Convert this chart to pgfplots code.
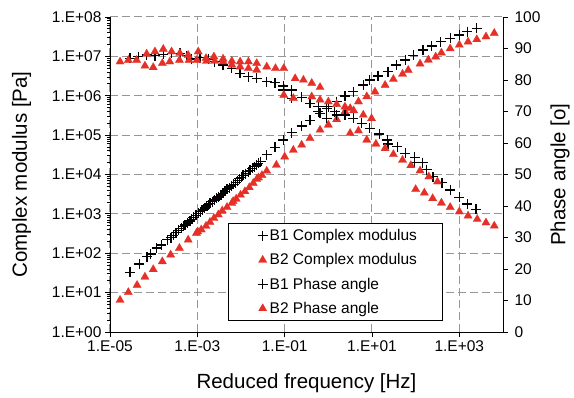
\documentclass[border=0pt]{standalone}
\usepackage{fontspec}
\setmainfont{Liberation Sans}
\usepackage{pgfplots}
\pgfplotsset{compat=1.18}
\pgfkeys{/pgf/number format/assume math mode=true}
\definecolor{myred}{RGB}{228,48,38}
\definecolor{gridgray}{RGB}{150,150,150}
\pgfplotsset{
  myleg/.style={legend image code/.code={\path[draw=none,fill=none] (-17pt,0pt) -- (4.5pt,0pt); \draw[mark repeat=1,##1] plot coordinates {(0pt,0pt)};}},
  bone/.style={only marks, mark=+, mark size=5pt, black, mark options={line width=1.3pt}, myleg},
  btwo/.style={only marks, mark=triangle*, mark size=4.8pt, myred, mark options={fill=myred, draw=myred, line width=0.2pt}, myleg},
}
\begin{document}
\begin{tikzpicture}
\begin{axis}[scale only axis, width=393pt, height=315pt,
  xmode=log, xmin=1e-5, xmax=1e4,
  ymode=log, ymin=1, ymax=1e8,
  tick align=outside, major tick length=5pt,
  tick style={black, line width=0.8pt},
  tick label style={font=\fontsize{15.5}{18}\selectfont},
  label style={font=\fontsize{20.5}{24}\selectfont},
  axis line style={line width=0.9pt},
  axis x line*=bottom, axis y line*=left,
  xtick={1e-5,1e-3,1e-1,1e1,1e3},
  xticklabels={1.E-05,1.E-03,1.E-01,1.E+01,1.E+03},
  ytick={1,1e1,1e2,1e3,1e4,1e5,1e6,1e7,1e8},
  yticklabels={1.E+00,1.E+01,1.E+02,1.E+03,1.E+04,1.E+05,1.E+06,1.E+07,1.E+08},
  minor xtick={}, minor ytick={},
  xmajorgrids, ymajorgrids,
  major grid style={gridgray, dash pattern=on 8pt off 4pt, line width=1pt},
  xlabel={Reduced frequency [Hz]}, ylabel={Complex modulus [Pa]},
  xlabel style={at={(axis description cs:0.5,-0.162)}, anchor=center},
  ylabel style={at={(axis description cs:-0.225,0.5)}, anchor=center},
]
% B1 complex modulus
\addplot[bone] coordinates {
(2.88e-5,33.1) (4.68e-5,53.7) (7.08e-5,81.3) (8.51e-5,95.5) (1.175e-4,135)
(1.51e-4,162) (2.04e-4,219) (2.51e-4,251) (2.82e-4,288) (3.24e-4,331)
(3.72e-4,380) (4.27e-4,427) (4.79e-4,479) (5.25e-4,525) (6.03e-4,589)
(6.76e-4,661) (7.41e-4,724) (8.13e-4,813) (9.33e-4,912) (1.05e-3,1023)
(1.175e-3,1148) (1.32e-3,1259) (1.48e-3,1413) (1.62e-3,1585) (1.78e-3,1698)
(1.95e-3,1862) (2.19e-3,2042) (2.51e-3,2239) (2.75e-3,2512) (3.02e-3,2754)
(3.47e-3,3020) (3.89e-3,3311) (4.27e-3,3715) (4.79e-3,4169) (5.37e-3,4571)
(6.03e-3,5129) (6.76e-3,5623) (7.59e-3,6166) (8.32e-3,6918) (9.12e-3,7762)
(1.02e-2,8511) (1.12e-2,9550) (1.29e-2,10470) (1.48e-2,11750) (1.62e-2,12880)
(1.82e-2,14450) (2.04e-2,15850) (2.29e-2,17380) (2.51e-2,19050) (2.82e-2,21380)
(3.89e-2,31620) (6.03e-2,48980) (9.33e-2,75860) (1.45e-1,1.148e5) (2.45e-1,1.70e5)
(3.80e-1,2.40e5) (6.46e-1,3.55e5) (1.0,5.25e5) (1.55,7.08e5) (2.40,9.77e5)
(3.72,1.26e6) (6.31,1.86e6) (8.91,2.51e6) (13.8,3.16e6) (23.4,4.07e6)
(36.3,6.03e6) (57.5,8.13e6) (89.1,1.07e7) (148,1.45e7) (234,1.82e7)
(372,2.34e7) (617,2.88e7) (1000,3.47e7) (1514,4.27e7) (2512,5.13e7)
};
% B2 complex modulus
\addplot[btwo] coordinates {
(1.70e-5,6.46) (2.63e-5,10.2) (4.17e-5,15.5) (6.31e-5,25.1) (9.77e-5,38.9)
(1.58e-4,61.7) (2.45e-4,91.2) (3.89e-4,135) (6.17e-4,219) (9.55e-4,324)
(1.02e-3,355) (1.23e-3,398) (1.58e-3,490) (1.95e-3,617) (2.40e-3,776)
(3.02e-3,955) (3.72e-3,1202) (4.79e-3,1479) (6.17e-3,1862) (6.61e-3,2089)
(7.76e-3,2399) (9.77e-3,3020) (1.23e-2,3715) (1.55e-2,4677) (1.91e-2,6026)
(2.29e-2,7586) (2.51e-2,8318) (3.02e-2,9550) (3.89e-2,12300) (6.46e-2,17380)
(1.0e-1,28180) (1.58e-1,41690) (2.45e-1,56230) (3.80e-1,83180) (6.46e-1,1.35e5)
(1.0,1.82e5) (1.55,2.51e5) (2.40,3.98e5) (3.16,4.79e5) (4.90,7.08e5)
(7.59,9.55e5) (11.7,1.26e6) (19.95,1.86e6) (30.9,2.63e6) (50.1,3.55e6)
(67.6,4.47e6) (126,6.46e6) (195,8.13e6) (288,9.77e6) (389,1.23e7)
(617,1.58e7) (1000,1.95e7) (1585,2.34e7) (2512,2.69e7) (4074,3.16e7)
(6310,3.89e7)
};
\end{axis}
\begin{axis}[scale only axis, width=393pt, height=315pt,
  xmode=log, xmin=1e-5, xmax=1e4,
  ymin=0, ymax=100,
  tick align=outside, major tick length=5pt,
  tick style={black, line width=0.8pt},
  tick label style={font=\fontsize{15.5}{18}\selectfont},
  yticklabel style={xshift=3pt},
  label style={font=\fontsize{20.5}{24}\selectfont},
  axis line style={line width=0.9pt},
  axis y line*=right, axis x line=none,
  ytick={0,10,20,30,40,50,60,70,80,90,100},
  ylabel={Phase angle [o]},
  ylabel style={at={(axis description cs:1.145,0.5)}, anchor=center},
  legend cell align=left,
  legend style={at={(0.846,0.034)}, anchor=south east, draw=black, line width=0.9pt,
    fill=white, font=\fontsize{15.5}{18}\selectfont, row sep=7.5pt,
    inner xsep=17pt, inner ysep=4pt},
]
\addlegendimage{bone}
\addlegendentry{B1 Complex modulus\hspace*{6pt}}
\addlegendimage{btwo}
\addlegendentry{B2 Complex modulus\hspace*{6pt}}
% B1 phase angle
\addplot[bone] coordinates {
(2.88e-5,86.9) (4.47e-5,87.4) (6.92e-5,87.9) (1.07e-4,87.7) (1.66e-4,88.1)
(2.57e-4,88.5) (3.98e-4,88.5) (5.75e-4,87.7) (7.41e-4,86.7) (1.15e-3,87.1)
(1.78e-3,86.7) (2.51e-3,85.8) (3.89e-3,84.8) (6.17e-3,83.7) (9.55e-3,82.1)
(1.48e-2,81.0) (2.29e-2,80.5) (3.89e-2,79.5) (6.03e-2,79.1) (9.33e-2,78.1)
(9.33e-2,76.8) (1.45e-1,76.8) (1.45e-1,74.2) (2.45e-1,74.5) (3.80e-1,72.6)
(5.89e-1,71.5) (5.89e-1,69.9) (9.12e-1,71.0) (9.12e-1,67.8) (1.41,69.9)
(1.55,68.9) (2.40,68.9) (3.72,67.8) (5.75,66.3) (8.91,64.7)
(14.8,62.9) (22.4,61.0) (23.4,59.7) (38.0,58.8) (57.5,56.7)
(95.5,55.5) (95.5,53.8) (145,53.8) (178,51.5) (251,49.3)
(398,47.4) (617,45.1) (1000,42.8) (1514,40.6) (2399,38.9)
};
\addlegendentry{B1 Phase angle}
% B2 phase angle
\addplot[btwo] coordinates {
(1.70e-5,85.8) (2.63e-5,86.3) (4.07e-5,86.3) (6.31e-5,84.5) (6.92e-5,88.3)
(9.77e-5,84.0) (1.07e-4,89.0) (1.58e-4,85.3) (1.66e-4,89.8) (2.34e-4,85.8)
(2.57e-4,89.0) (3.89e-4,86.3) (3.98e-4,88.5) (6.17e-4,87.9) (6.46e-4,86.3)
(9.77e-4,86.3) (1.05e-3,89.0) (1.58e-3,86.9) (1.62e-3,86.0) (2.40e-3,87.4)
(2.51e-3,86.0) (3.89e-3,86.7) (3.89e-3,85.8) (6.17e-3,86.0) (6.17e-3,84.8)
(9.55e-3,85.8) (9.55e-3,84.2) (1.48e-2,85.8) (1.48e-2,83.7) (2.29e-2,85.3)
(2.29e-2,83.2) (3.89e-2,84.2) (6.17e-2,83.7) (9.55e-2,83.7) (9.55e-2,75.2)
(1.58e-1,74.2) (1.74e-1,80.5) (2.69e-1,80.0) (4.17e-1,79.0) (4.17e-1,74.7)
(6.46e-1,77.7) (6.46e-1,73.7) (1.0,73.1) (1.55,72.3) (2.40,71.5)
(3.16,63.1) (3.80,70.3) (4.90,63.9) (6.31,68.9) (7.59,61.0)
(9.77,67.8) (12.3,59.7) (19.95,58.3) (30.9,56.4) (50.1,54.6)
(77.6,52.9) (100,45.3) (126,51.2) (158,44.2) (200,49.3)
(245,42.4) (316,47.7) (389,41.0) (617,39.6) (1000,38.2)
(1585,36.9) (2570,35.8) (4074,34.7) (6310,33.7)
};
\addlegendentry{B2 Phase angle}
\end{axis}
\pgfresetboundingbox
\path (-110pt,-65pt) rectangle (464pt,332pt);
\end{tikzpicture}
\end{document}
